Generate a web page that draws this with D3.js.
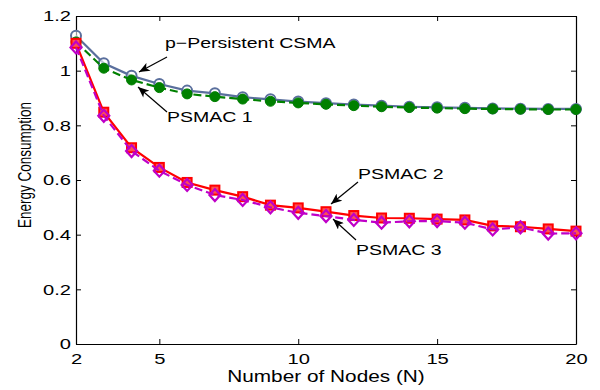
<!DOCTYPE html>
<html>
<head>
<meta charset="utf-8">
<script src="https://cdn.jsdelivr.net/npm/d3@7/dist/d3.min.js"></script>
<style>
  html, body { margin: 0; padding: 0; background: #fff; }
  svg { display: block; }
  text { font-family: "Liberation Sans", Arial, Helvetica, sans-serif; fill: #000; }
</style>
</head>
<body>
<svg id="chart" width="600" height="390"></svg>
<script>
// Number of nodes on the x axis
const nodes = [2, 3, 4, 5, 6, 7, 8, 9, 10, 11, 12, 13, 14, 15, 16, 17, 18, 19, 20];

// Energy consumption per scheme
const pPersistent = [1.128, 1.027, 0.981, 0.951, 0.927, 0.917, 0.903, 0.895, 0.887, 0.881, 0.876, 0.872, 0.868, 0.866, 0.864, 0.862, 0.861, 0.860, 0.860];
const psmac1 = [1.105, 1.009, 0.966, 0.938, 0.915, 0.905, 0.896, 0.888, 0.882, 0.877, 0.872, 0.868, 0.865, 0.863, 0.861, 0.860, 0.859, 0.858, 0.858];
const psmac2 = [1.100, 0.848, 0.718, 0.646, 0.591, 0.563, 0.539, 0.508, 0.498, 0.484, 0.470, 0.461, 0.460, 0.457, 0.454, 0.432, 0.429, 0.421, 0.413];
const psmac3 = [1.085, 0.835, 0.706, 0.634, 0.582, 0.545, 0.527, 0.500, 0.480, 0.468, 0.454, 0.444, 0.449, 0.450, 0.444, 0.419, 0.427, 0.404, 0.405];

const xTicks = [2, 5, 10, 15, 20];
const yTicks = [0, 0.2, 0.4, 0.6, 0.8, 1, 1.2];

const svg = d3.select("#chart");
const plotLeft = 76, plotRight = 576, plotTop = 16, plotBottom = 344;
const WIDE = 1.3; // horizontal widening of the label glyphs

const x = d3.scaleLinear().domain([2, 20]).range([plotLeft, plotRight]);
const y = d3.scaleLinear().domain([0, 1.2]).range([plotBottom, plotTop]);

// Turn x/y placement of text into a transform so the glyphs can be widened
function widen(sel) {
  sel.each(function () {
    const t = d3.select(this);
    const tx = +t.attr("x") || 0, ty = +t.attr("y") || 0;
    t.attr("transform", `translate(${tx},${ty}) scale(${WIDE},1)`).attr("x", 0).attr("y", 0);
  });
}

// Arrowhead marker
const defs = svg.append("defs");
defs.append("marker")
  .attr("id", "arrow")
  .attr("viewBox", "0 0 12 10")
  .attr("refX", 12).attr("refY", 5)
  .attr("markerWidth", 12).attr("markerHeight", 9)
  .attr("markerUnits", "userSpaceOnUse")
  .attr("orient", "auto")
  .append("path")
  .attr("d", "M0,0 L12,5 L0,10 L3,5 Z")
  .attr("fill", "#000");

// Axes with inward ticks, mirrored on the opposite sides
const tickFmt = d => d3.format("")(d);
const axisBottom = d3.axisBottom(x).tickValues(xTicks).tickSizeInner(-5).tickSizeOuter(0).tickPadding(9).tickFormat(tickFmt);
const axisLeft = d3.axisLeft(y).tickValues(yTicks).tickSizeInner(-5).tickSizeOuter(0).tickPadding(5).tickFormat(tickFmt);
const axisTop = d3.axisTop(x).tickValues(xTicks).tickSizeInner(-5).tickSizeOuter(0).tickFormat("");
const axisRight = d3.axisRight(y).tickValues(yTicks).tickSizeInner(-5).tickSizeOuter(0).tickFormat("");

function styleAxis(g) {
  g.select(".domain").attr("stroke", "#000").attr("stroke-width", 1.2);
  g.selectAll(".tick line").attr("stroke", "#000").attr("stroke-width", 1);
  g.selectAll(".tick text").style("font-size", "15.5px").attr("fill", "#000").call(widen);
}

svg.append("g").attr("transform", `translate(0,${plotBottom})`).call(axisBottom).call(styleAxis);
svg.append("g").attr("transform", `translate(${plotLeft},0)`).call(axisLeft).call(styleAxis);
svg.append("g").attr("transform", `translate(0,${plotTop})`).call(axisTop).call(styleAxis);
svg.append("g").attr("transform", `translate(${plotRight},0)`).call(axisRight).call(styleAxis);

// Axis titles
svg.append("text")
  .attr("x", (plotLeft + plotRight) / 2).attr("y", 382)
  .attr("text-anchor", "middle")
  .style("font-size", "16px")
  .text("Number of Nodes (N)")
  .call(widen);

svg.append("text")
  .attr("transform", `translate(31,165) rotate(-90) scale(1,${WIDE})`)
  .attr("text-anchor", "middle")
  .style("font-size", "13.5px")
  .text("Energy Consumption");

// Series
const series = [
  { name: "p-Persistent CSMA", values: pPersistent, color: "#5a6f9d", dash: null, marker: "circle-open" },
  { name: "PSMAC 1", values: psmac1, color: "#008000", dash: "8,4", marker: "circle-filled" },
  { name: "PSMAC 2", values: psmac2, color: "#ff0000", dash: null, marker: "square" },
  { name: "PSMAC 3", values: psmac3, color: "#bf00c8", dash: "8,4", marker: "diamond" }
];

const line = d3.line().x(d => x(d[0])).y(d => y(d[1]));

series.forEach(s => {
  const pts = nodes.map((n, i) => [n, s.values[i]]);
  const g = svg.append("g");
  g.append("path")
    .datum(pts)
    .attr("d", line)
    .attr("fill", "none")
    .attr("stroke", s.color)
    .attr("stroke-width", 2.2)
    .attr("stroke-dasharray", s.dash);

  const m = g.selectAll(".m").data(pts).enter();
  if (s.marker === "circle-open") {
    m.append("circle")
      .attr("cx", d => x(d[0])).attr("cy", d => y(d[1])).attr("r", 5)
      .attr("fill", "#fff").attr("fill-opacity", 0.6)
      .attr("stroke", s.color).attr("stroke-width", 2);
  } else if (s.marker === "circle-filled") {
    m.append("circle")
      .attr("cx", d => x(d[0])).attr("cy", d => y(d[1])).attr("r", 5)
      .attr("fill", s.color).attr("stroke", s.color).attr("stroke-width", 1);
  } else if (s.marker === "square") {
    m.append("rect")
      .attr("x", d => x(d[0]) - 4.5).attr("y", d => y(d[1]) - 4.5)
      .attr("width", 9).attr("height", 9)
      .attr("fill", "#ff5050").attr("stroke", s.color).attr("stroke-width", 2);
  } else if (s.marker === "diamond") {
    m.append("path")
      .attr("d", d => {
        const cx = x(d[0]), cy = y(d[1]);
        return `M${cx},${cy - 6} L${cx + 5.5},${cy} L${cx},${cy + 6} L${cx - 5.5},${cy} Z`;
      })
      .attr("fill", "none").attr("stroke", s.color).attr("stroke-width", 2.2);
  }
});

// Annotations with arrows pointing at the curves
const notes = [
  { text: "p\u2212Persistent CSMA", tx: 165, ty: 48, from: [167, 57], to: [139, 72] },
  { text: "PSMAC 1", tx: 167, ty: 122, from: [167, 112], to: [138, 87] },
  { text: "PSMAC 2", tx: 358, ty: 179, from: [358, 182], to: [331, 204] },
  { text: "PSMAC 3", tx: 356, ty: 255, from: [356, 240], to: [333, 219] }
];

notes.forEach(n => {
  svg.append("line")
    .attr("x1", n.from[0]).attr("y1", n.from[1])
    .attr("x2", n.to[0]).attr("y2", n.to[1])
    .attr("stroke", "#000").attr("stroke-width", 1.2)
    .attr("marker-end", "url(#arrow)");
  svg.append("text")
    .attr("x", n.tx).attr("y", n.ty)
    .style("font-size", "15px")
    .text(n.text)
    .call(widen);
});
</script>
</body>
</html>
